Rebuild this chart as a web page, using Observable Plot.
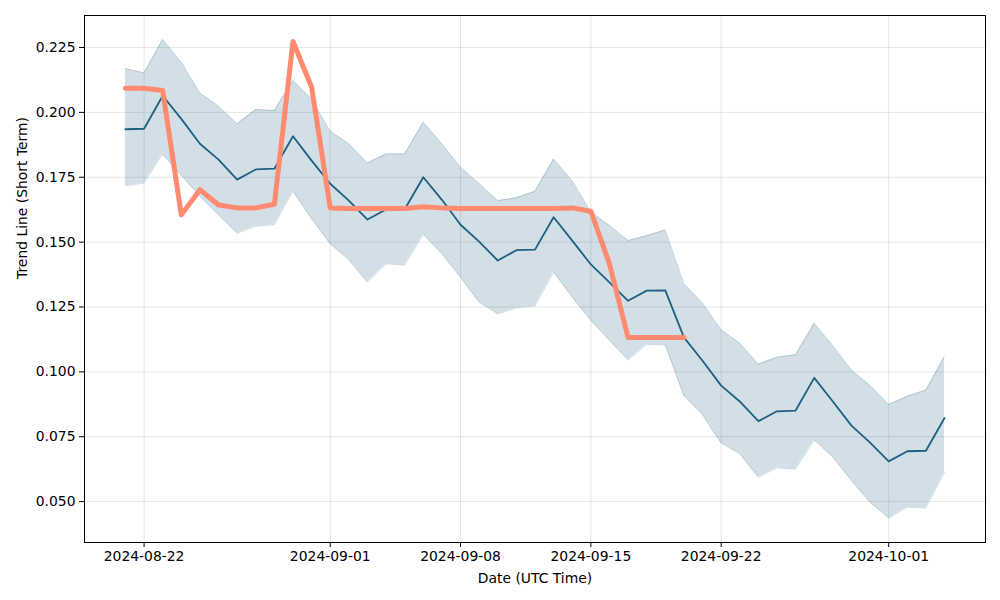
<!DOCTYPE html>
<html>
<head>
<meta charset="utf-8">
<script src="https://cdn.jsdelivr.net/npm/d3@7"></script>
<script src="https://cdn.jsdelivr.net/npm/@observablehq/plot@0.6"></script>
<style>
  html, body { margin: 0; padding: 0; background: #fff; }
  #chart { width: 1000px; height: 600px; }
  svg { font-family: "DejaVu Sans", sans-serif; }
</style>
</head>
<body>
<div id="chart"></div>
<script>
// Daily dates from 2024-08-21 to 2024-10-04
const startDate = "2024-08-21";
const dayCount = 45;

const trend = [0.1935, 0.1937, 0.2064, 0.1975, 0.1879, 0.1818, 0.1741, 0.1780, 0.1783, 0.1908,
  0.1814, 0.1725, 0.1660, 0.1587, 0.1626, 0.1627, 0.1750, 0.1663, 0.1567, 0.1502,
  0.1429, 0.1469, 0.1471, 0.1596, 0.1506, 0.1414, 0.1345, 0.1274, 0.1313, 0.1314,
  0.1133, 0.1043, 0.0947, 0.0886, 0.0810, 0.0848, 0.0851, 0.0977, 0.0886, 0.0793,
  0.0727, 0.0655, 0.0694, 0.0696, 0.0822];

const upper = [0.2169, 0.2152, 0.2281, 0.2193, 0.2075, 0.2024, 0.1956, 0.2011, 0.2007, 0.2123,
  0.2052, 0.1927, 0.1879, 0.1805, 0.1840, 0.1840, 0.1962, 0.1879, 0.1789, 0.1725,
  0.1660, 0.1671, 0.1696, 0.1820, 0.1737, 0.1615, 0.1564, 0.1506, 0.1525, 0.1547,
  0.1339, 0.1265, 0.1162, 0.1110, 0.1030, 0.1056, 0.1066, 0.1187, 0.1101, 0.1007,
  0.0947, 0.0874, 0.0906, 0.0930, 0.1059];

const lower = [0.1717, 0.1728, 0.1839, 0.1757, 0.1677, 0.1605, 0.1534, 0.1561, 0.1567, 0.1696,
  0.1590, 0.1493, 0.1432, 0.1345, 0.1416, 0.1412, 0.1529, 0.1455, 0.1365, 0.1268,
  0.1223, 0.1247, 0.1254, 0.1384, 0.1288, 0.1198, 0.1121, 0.1046, 0.1105, 0.1104,
  0.0908, 0.0835, 0.0725, 0.0684, 0.0594, 0.0630, 0.0625, 0.0737, 0.0671, 0.0581,
  0.0497, 0.0436, 0.0478, 0.0475, 0.0613];

// Short-term signal (first 31 days)
const signal = [0.2093, 0.2093, 0.2084, 0.1605, 0.1702, 0.1643, 0.1632, 0.1632, 0.1646, 0.2273,
  0.2097, 0.1632, 0.1630, 0.1630, 0.1630, 0.1630, 0.1636, 0.1632, 0.1630, 0.1630,
  0.1630, 0.1630, 0.1630, 0.1630, 0.1632, 0.1619, 0.1416, 0.1132, 0.1132, 0.1132,
  0.1132];

const xTickLabels = ["2024-08-22", "2024-09-01", "2024-09-08", "2024-09-15", "2024-09-22", "2024-10-01"];
const yTickValues = [0.050, 0.075, 0.100, 0.125, 0.150, 0.175, 0.200, 0.225];

const parseDay = d3.utcParse("%Y-%m-%d");
const dates = d3.utcDay.range(parseDay(startDate), d3.utcDay.offset(parseDay(startDate), dayCount));
const bandData = dates.map((d, i) => ({date: d, trend: trend[i], upper: upper[i], lower: lower[i]}));
const signalData = signal.map((v, i) => ({date: dates[i], value: v}));
const xTicks = xTickLabels.map(parseDay);

const blue = "#1f6080";
const chart = Plot.plot({
  width: 1000,
  height: 600,
  marginLeft: 84,
  marginRight: 15,
  marginTop: 15,
  marginBottom: 58,
  style: {fontFamily: "DejaVu Sans, sans-serif", fontSize: "13.9px", color: "#000", background: "#fff"},
  x: {type: "utc", domain: [new Date(Date.UTC(2024, 7, 18, 19, 12)), new Date(Date.UTC(2024, 9, 6, 4, 48))]},
  y: {domain: [0.03424, 0.23734]},
  marks: [
    Plot.gridX(xTicks, {stroke: "#b0b0b0", strokeOpacity: 0.4, strokeWidth: 0.8}),
    Plot.gridY(yTickValues, {stroke: "#b0b0b0", strokeOpacity: 0.4, strokeWidth: 0.8}),
    Plot.areaY(bandData, {x: "date", y1: "lower", y2: "upper", fill: blue, fillOpacity: 0.2, curve: "linear"}),
    Plot.lineY(bandData, {x: "date", y: "upper", stroke: blue, strokeOpacity: 0.2, strokeWidth: 1}),
    Plot.lineY(bandData, {x: "date", y: "lower", stroke: blue, strokeOpacity: 0.2, strokeWidth: 1}),
    Plot.lineY(bandData, {x: "date", y: "trend", stroke: blue, strokeWidth: 1.8}),
    Plot.lineY(signalData, {x: "date", y: "value", stroke: "#ff8a70", strokeWidth: 5, strokeLinejoin: "round", strokeLinecap: "round"}),
    Plot.axisX({ticks: xTicks, tickFormat: d3.utcFormat("%Y-%m-%d"), tickSize: 5, tickPadding: 4, label: null, stroke: "#000"}),
    Plot.axisY({ticks: yTickValues, tickFormat: d3.format(".3f"), tickSize: 5, tickPadding: 4, label: null, stroke: "#000"}),
    Plot.text(["Date (UTC Time)"], {frameAnchor: "bottom", dy: 40, fill: "#000", fontSize: 13.9}),
    Plot.text(["Trend Line (Short Term)"], {frameAnchor: "left", dx: -62, rotate: -90, fill: "#000", fontSize: 13.9}),
    Plot.frame({stroke: "#000", strokeWidth: 1})
  ]
});
document.getElementById("chart").appendChild(chart);
</script>
</body>
</html>
